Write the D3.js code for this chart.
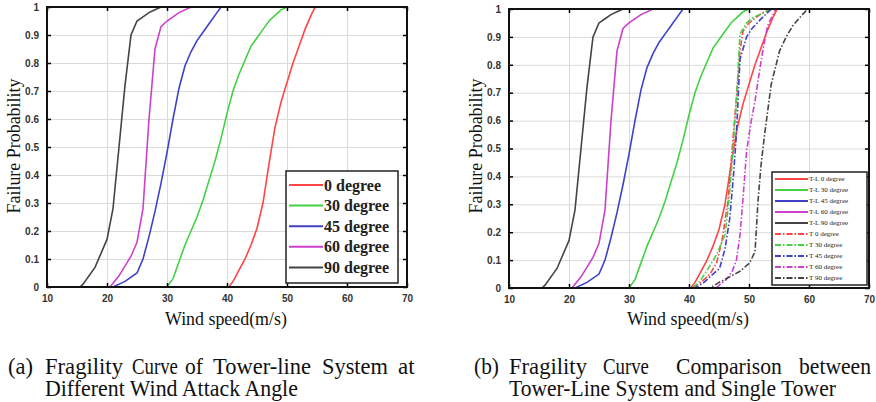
<!DOCTYPE html>
<html>
<head>
<meta charset="utf-8">
<script src="https://cdn.jsdelivr.net/npm/d3@7"></script>
<style>
  body { margin: 0; background: #fff; }
  svg { display: block; }
  .tick text { font-family: "Liberation Sans", Arial, sans-serif; font-weight: bold; fill: #333; }
  .serif { font-family: "Liberation Serif", "Times New Roman", serif; }
</style>
</head>
<body>
<svg id="chart" width="876" height="402"></svg>
<script>
// x ticks and y ticks shared by both panels
const xTicks = [10, 20, 30, 40, 50, 60, 70];
const yTicks = [0, 0.1, 0.2, 0.3, 0.4, 0.5, 0.6, 0.7, 0.8, 0.9, 1];

// tower-line system curves [wind speed, probability]
const tl0  = [[10,0],[40.3,0],[41,0.02],[42,0.06],[43,0.1],[44,0.15],[45,0.21],[46,0.3],[47,0.44],[48,0.57],[49,0.66],[50,0.73],[51,0.8],[52,0.86],[53,0.92],[54,0.97],[54.7,1],[70,1]];
const tl30 = [[10,0],[30,0],[31,0.03],[32,0.09],[33,0.15],[34,0.2],[35,0.25],[36,0.31],[37,0.38],[38,0.45],[39,0.53],[40,0.62],[41,0.7],[42,0.76],[43,0.81],[44,0.86],[45,0.89],[46,0.92],[47,0.95],[48,0.97],[49,0.99],[50,1],[70,1]];
const tl45 = [[10,0],[21,0],[23,0.02],[25,0.05],[26,0.1],[27,0.18],[28,0.27],[29,0.37],[30,0.48],[31,0.6],[32,0.71],[33,0.79],[34,0.84],[35,0.88],[36,0.91],[37,0.94],[38,0.97],[39,1],[70,1]];
const tl60 = [[10,0],[20.5,0],[22,0.04],[24,0.11],[25,0.16],[26,0.28],[27,0.6],[28,0.85],[29,0.93],[30,0.95],[32,0.98],[34,1],[70,1]];
const tl90 = [[10,0],[15.5,0],[16,0.01],[18,0.07],[20,0.17],[21,0.28],[22,0.5],[23,0.72],[24,0.9],[25,0.95],[26,0.965],[27,0.98],[28,0.99],[29,1],[70,1]];

// single tower curves
const t0  = [[10,0],[40.5,0],[42,0.02],[43.5,0.05],[44.6,0.09],[45.5,0.17],[46.5,0.31],[47.2,0.5],[47.9,0.68],[48.5,0.85],[49,0.92],[50,0.95],[51.2,0.97],[52.5,0.99],[54,1],[70,1]];
const t30 = [[10,0],[40.7,0],[42,0.03],[43.5,0.08],[44.6,0.12],[46,0.19],[46.6,0.3],[47.1,0.43],[47.9,0.67],[48.5,0.91],[49.6,0.95],[50.7,0.97],[52.9,0.99],[54,1],[70,1]];
const t45 = [[10,0],[41,0],[42.5,0.02],[44,0.05],[45.1,0.07],[46,0.14],[46.8,0.25],[47.4,0.4],[47.9,0.55],[48.5,0.82],[49.6,0.9],[50.5,0.93],[51.8,0.96],[53.7,1],[70,1]];
const t60 = [[10,0],[44.5,0],[46.2,0.03],[47.2,0.06],[47.9,0.1],[48.5,0.19],[49,0.32],[49.6,0.49],[50.3,0.59],[51,0.67],[51.7,0.77],[52.3,0.85],[53.1,0.94],[54,0.98],[54.5,1],[70,1]];
const t90 = [[10,0],[43.5,0],[45,0.02],[46.8,0.04],[48.5,0.06],[50.1,0.09],[51,0.13],[51.5,0.31],[52,0.44],[52.6,0.55],[53.7,0.73],[55.1,0.85],[56.2,0.9],[57.3,0.94],[58.9,0.98],[59.8,1],[70,1]];

const colors = ["#ff4545", "#45d045", "#4040c8", "#cc40cc", "#444"];
const labelsA = ["0 degree", "30 degree", "45 degree", "60 degree", "90 degree"];
const labelsB = ["T-L 0 degree", "T-L 30 degree", "T-L 45 degree", "T-L 60 degree", "T-L 90 degree",
                 "T 0 degree", "T 30 degree", "T 45 degree", "T 60 degree", "T 90 degree"];

const svg = d3.select("#chart");

// serif text squeezed horizontally (like the scanned figure) to a given width
function squeezed(parent, txt, x, y, width, size, anchor, rot) {
  const t = parent.append("text").attr("class", "serif")
    .attr("font-size", size).attr("fill", "#111").text(txt);
  const sx = Math.min(1, width / t.node().getComputedTextLength());
  const dx = anchor === "middle" ? -width / 2 : 0;
  t.attr("transform", `translate(${x},${y})${rot ? " rotate(-90)" : ""} scale(${sx},1) translate(${dx / sx},0)`);
  return t;
}

function panel(box, series, legend) {
  const x = d3.scaleLinear().domain([10, 70]).range([box.x0, box.x1]);
  const y = d3.scaleLinear().domain([0, 1]).range([box.y1, box.y0]);
  const g = svg.append("g");
  const w = box.x1 - box.x0, h = box.y1 - box.y0;

  // grid
  g.append("g").attr("transform", `translate(0,${box.y1})`)
    .call(d3.axisBottom(x).tickValues(xTicks).tickSize(-h).tickFormat(""))
    .call(a => a.select(".domain").remove())
    .selectAll("line").attr("stroke", "#dadada");
  g.append("g").attr("transform", `translate(${box.x0},0)`)
    .call(d3.axisLeft(y).tickValues(yTicks).tickSize(-w).tickFormat(""))
    .call(a => a.select(".domain").remove())
    .selectAll("line").attr("stroke", "#dadada");

  // curves
  const line = d3.line().x(d => x(d[0])).y(d => y(d[1]));
  series.forEach(s => {
    g.append("path").datum(s.data)
      .attr("fill", "none")
      .attr("stroke", s.color)
      .attr("stroke-width", 1.6)
      .attr("stroke-dasharray", s.dash || null)
      .attr("d", line);
  });

  // inward ticks on all sides
  const tk = 4;
  g.append("g").attr("transform", `translate(0,${box.y1})`)
    .call(d3.axisBottom(x).tickValues(xTicks).tickSize(-tk).tickPadding(8).tickFormat(d3.format("d")))
    .call(a => a.select(".domain").remove())
    .call(a => a.selectAll("text").attr("font-size", 10))
    .selectAll("line").attr("stroke", "#000").attr("stroke-width", 1.5);
  g.append("g").attr("transform", `translate(0,${box.y0})`)
    .call(d3.axisTop(x).tickValues(xTicks).tickSize(-tk).tickFormat(""))
    .call(a => a.select(".domain").remove())
    .selectAll("line").attr("stroke", "#000").attr("stroke-width", 1.5);
  g.append("g").attr("transform", `translate(${box.x0},0)`)
    .call(d3.axisLeft(y).tickValues(yTicks).tickSize(-tk).tickPadding(8).tickFormat(d => d === 0 || d === 1 ? d : d3.format(".1f")(d)))
    .call(a => a.select(".domain").remove())
    .call(a => a.selectAll("text").attr("font-size", 10))
    .selectAll("line").attr("stroke", "#000").attr("stroke-width", 1.5);
  g.append("g").attr("transform", `translate(${box.x1},0)`)
    .call(d3.axisRight(y).tickValues(yTicks).tickSize(-tk).tickFormat(""))
    .call(a => a.select(".domain").remove())
    .selectAll("line").attr("stroke", "#000").attr("stroke-width", 1.5);

  g.append("rect").attr("x", box.x0).attr("y", box.y0).attr("width", w).attr("height", h)
    .attr("fill", "none").attr("stroke", "#111").attr("stroke-width", 2);

  // axis titles
  squeezed(g, "Wind speed(m/s)", (box.x0 + box.x1) / 2 - 1, 325, 122, 19, "middle", false);
  squeezed(g, "Failure Probability", box.x0 - 27, 146, 135, 19, "middle", true);

  // legend
  const L = legend;
  const lg = g.append("g");
  lg.append("rect").attr("x", L.x).attr("y", L.y).attr("width", L.w).attr("height", L.h)
    .attr("fill", "#fff").attr("stroke", "#222").attr("stroke-width", 1.5);
  series.forEach((s, i) => {
    const yy = L.y + L.top + i * L.step;
    lg.append("line").attr("x1", L.x + 3).attr("x2", L.x + 3 + L.len)
      .attr("y1", yy).attr("y2", yy)
      .attr("stroke", s.color).attr("stroke-width", 2)
      .attr("stroke-dasharray", s.dash || null);
    lg.append("text").attr("class", "serif").attr("x", L.x + 4 + L.len).attr("y", yy)
      .attr("dy", "0.35em").attr("font-size", L.fs)
      .attr("font-weight", L.bold ? "bold" : "normal").attr("fill", "#222").text(s.label);
  });
}

const seriesA = [tl0, tl30, tl45, tl60, tl90].map((d, i) => ({data: d, color: colors[i], label: labelsA[i]}));
panel({x0: 47, x1: 407, y0: 7, y1: 287}, seriesA,
      {x: 286, y: 171, w: 112, h: 112, top: 14, step: 20.6, len: 34, fs: 16, bold: true});

const seriesB = [tl0, tl30, tl45, tl60, tl90, t0, t30, t45, t60, t90].map((d, i) => ({
  data: d, color: colors[i % 5], label: labelsB[i], dash: i >= 5 ? "6,2,1.5,2" : null
}));
panel({x0: 509, x1: 869, y0: 9, y1: 288}, seriesB,
      {x: 772, y: 172, w: 95, h: 113, top: 7, step: 11, len: 33, fs: 7, bold: false});

// captions: each word placed at its x, squeezed to the width it has in the figure
const cap = svg.append("g");
function capLine(words, y) {
  words.forEach(([txt, x0, x1]) => squeezed(cap, txt, x0, y, x1 - x0, 23, "start", false));
}
capLine([["(a)", 8, 33], ["Fragility", 45, 123], ["Curve", 132, 178], ["of", 185, 203],
         ["Tower-line", 213, 311], ["System", 322, 388], ["at", 398, 418]], 374);
capLine([["Different Wind Attack Angle", 45, 298]], 396);
capLine([["(b)", 474, 499], ["Fragility", 509, 587], ["Curve", 603, 649],
         ["Comparison", 676, 782], ["between", 799, 871]], 374);
capLine([["Tower-Line System and Single Tower", 509, 836]], 396);
</script>
</body>
</html>
